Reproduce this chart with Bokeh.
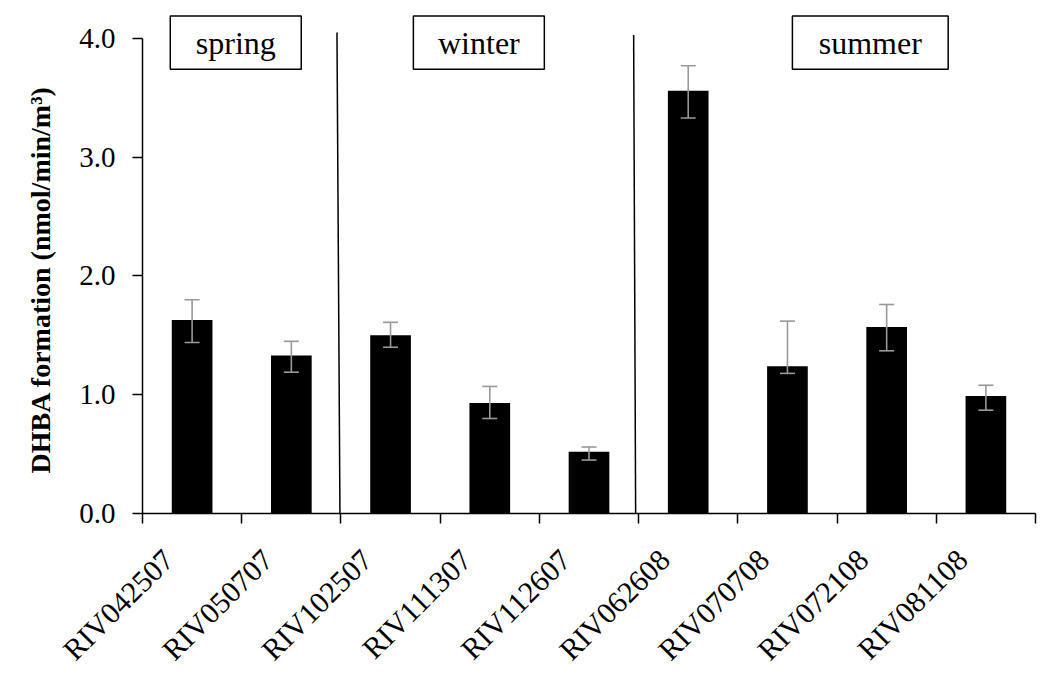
import math
from bokeh.plotting import figure
from bokeh.models import (ColumnDataSource, Whisker, TeeHead, FixedTicker,
                          CustomJSTickFormatter, Title, Range1d, PrintfTickFormatter)
from bokeh.core.properties import value
from bokeh.embed import file_html
from bokeh.resources import INLINE

# ---- data ----
samples = ["RIV042507", "RIV050707", "RIV102507", "RIV111307", "RIV112607",
           "RIV062608", "RIV070708", "RIV072108", "RIV081108"]
dhba = [1.63, 1.33, 1.50, 0.93, 0.52, 3.56, 1.24, 1.57, 0.99]
err_low = [1.44, 1.19, 1.40, 0.80, 0.45, 3.33, 1.18, 1.37, 0.87]
err_high = [1.80, 1.45, 1.61, 1.07, 0.56, 3.77, 1.62, 1.76, 1.08]
seasons = ["spring", "winter", "summer"]
y_ticks = [0, 1, 2, 3, 4]
y_title = "DHBA formation (nmol/min/m\u00b3)"

# ---- layout constants ----
SERIF = "Liberation Serif"
season_left = [0.28, 2.73, 6.55]
season_right = [1.60, 4.05, 8.12]
season_bottom = 3.74
season_top = 4.19
sep_x_top = [1.96, 4.95]
sep_x_bot = [1.99, 4.97]

n = len(samples)
xs = [i + 0.5 for i in range(n)]
source = ColumnDataSource(dict(x=xs, y=dhba, lo=err_low, hi=err_high, name=samples))

p = figure(width=1048, height=688, output_backend="svg", toolbar_location=None,
           x_range=Range1d(0, n), y_range=Range1d(0, 4.2105),
           min_border_left=142, min_border_right=13, min_border_top=13,
           min_border_bottom=175)
p.outline_line_color = None
p.grid.visible = False
p.background_fill_color = "white"

# bars
p.vbar(x="x", top="y", width=0.41, bottom=0, source=source,
       fill_color="black", line_color=None)

# error bars
wh = Whisker(base="x", upper="hi", lower="lo", source=source,
             line_color="#999999", line_width=1.6, level="annotation",
             upper_head=TeeHead(size=15, line_color="#999999", line_width=1.6),
             lower_head=TeeHead(size=15, line_color="#999999", line_width=1.6))
p.add_layout(wh)

# season separators
p.segment(x0=sep_x_top, y0=[4.05, 4.03], x1=sep_x_bot, y1=[0, 0],
          line_color="black", line_width=1.5)

# season boxes
p.quad(left=season_left, right=season_right, bottom=season_bottom, top=season_top,
       fill_color="white", line_color="black", line_width=1.5)
p.text(x=[(a + b) / 2 for a, b in zip(season_left, season_right)],
       y=[3.965] * 3, text=seasons, text_align="center", text_baseline="middle",
       text_font=value(SERIF), text_font_size="32px", text_color="black")

# y axis
ya = p.yaxis[0]
ya.bounds = (0, 4)
ya.ticker = FixedTicker(ticks=y_ticks, minor_ticks=[])
ya.formatter = PrintfTickFormatter(format="%.1f")
ya.major_label_text_font = SERIF
ya.major_label_text_font_size = "29px"
ya.major_label_text_color = "black"
ya.major_label_standoff = 17
ya.major_tick_out = 10
ya.major_tick_in = 0
ya.minor_tick_out = 0
ya.minor_tick_in = 0
ya.axis_line_color = "black"
ya.axis_line_width = 1.5
ya.major_tick_line_color = "black"
ya.major_tick_line_width = 1.5

# x axis
xa = p.xaxis[0]
xa.ticker = FixedTicker(ticks=[x - 0.24 for x in xs], minor_ticks=list(range(n + 1)))
xa.formatter = CustomJSTickFormatter(args=dict(names=samples),
                                     code="return names[Math.floor(tick)];")
xa.major_label_orientation = math.pi / 4
xa.major_label_text_font = SERIF
xa.major_label_text_font_size = "30px"
xa.major_label_text_color = "black"
xa.major_label_standoff = 31
xa.major_tick_out = 0
xa.major_tick_in = 0
xa.major_tick_line_color = None
xa.minor_tick_out = 10
xa.minor_tick_in = 0
xa.minor_tick_line_color = "black"
xa.minor_tick_line_width = 1.5
xa.axis_line_color = "black"
xa.axis_line_width = 1.5

# y title as a side title on the left
p.add_layout(Title(text=y_title, align="left", offset=40, standoff=41,
                   text_font=SERIF, text_font_style="bold",
                   text_font_size="28px", text_color="black"), "left")

open("out.html", "w").write(file_html(p, INLINE))
